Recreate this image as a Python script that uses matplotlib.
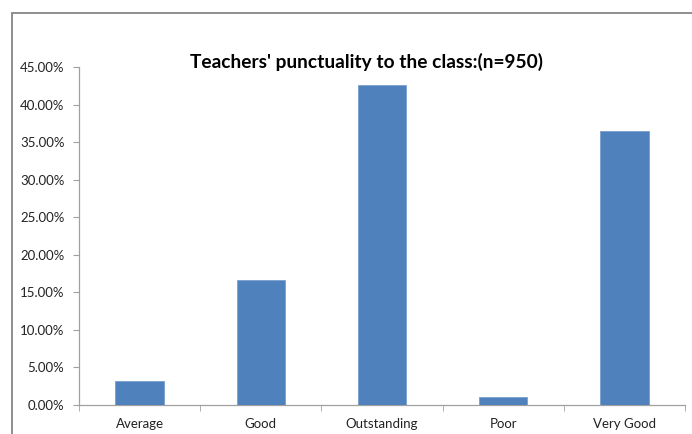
import matplotlib
matplotlib.use('Agg')
import matplotlib.pyplot as plt
from matplotlib.ticker import FuncFormatter, MultipleLocator
from matplotlib.patches import Rectangle

# Dados (n=950)
categorias = ['Average', 'Good', 'Outstanding', 'Poor', 'Very Good']
percentuais = [3.16, 16.63, 42.63, 1.05, 36.53]

plt.rcParams['font.family'] = ['Lato', 'DejaVu Sans']

fig = plt.figure(figsize=(6.92, 4.34), dpi=100)
ax = fig.add_axes([79/692, 1-405/434, 606/692, 338/434])

# moldura cinza do grafico (estilo Excel)
fig.patches.append(Rectangle((12/692, -0.1), 1.2, 1-13/434+0.1, transform=fig.transFigure,
                             fill=False, edgecolor='#868686', linewidth=1.3))

x = range(len(categorias))
ax.bar(x, percentuais, width=0.4, color='#4F81BD', edgecolor='#7A9FCF', linewidth=0.6, zorder=3)

ax.set_xlim(-0.5, len(categorias) - 0.5)
ax.set_ylim(0, 45)
ax.yaxis.set_major_locator(MultipleLocator(5))
ax.yaxis.set_major_formatter(FuncFormatter(lambda v, p: '%.2f%%' % v))

ax.set_xticks(list(x))
ax.set_xticklabels(categorias)
ax.set_xticks([i - 0.5 for i in range(len(categorias) + 1)], minor=True)
ax.tick_params(axis='x', which='major', length=0, pad=9, labelsize=9.5, labelcolor='#222222')
ax.tick_params(axis='x', which='minor', length=4, direction='out', color='#A0A0A0')
ax.tick_params(axis='y', length=4, direction='out', color='#A0A0A0', labelsize=9.5,
               labelcolor='#222222', pad=6.5)

for lado in ['top', 'right']:
    ax.spines[lado].set_visible(False)
for lado in ['left', 'bottom']:
    ax.spines[lado].set_color('#A0A0A0')
    ax.spines[lado].set_linewidth(0.9)

fig.text(366/692, 1-62/434, "Teachers' punctuality to the class:(n=950)",
         ha='center', va='center', fontsize=13.8, fontweight='bold')

fig.savefig('out.png', dpi=100)
